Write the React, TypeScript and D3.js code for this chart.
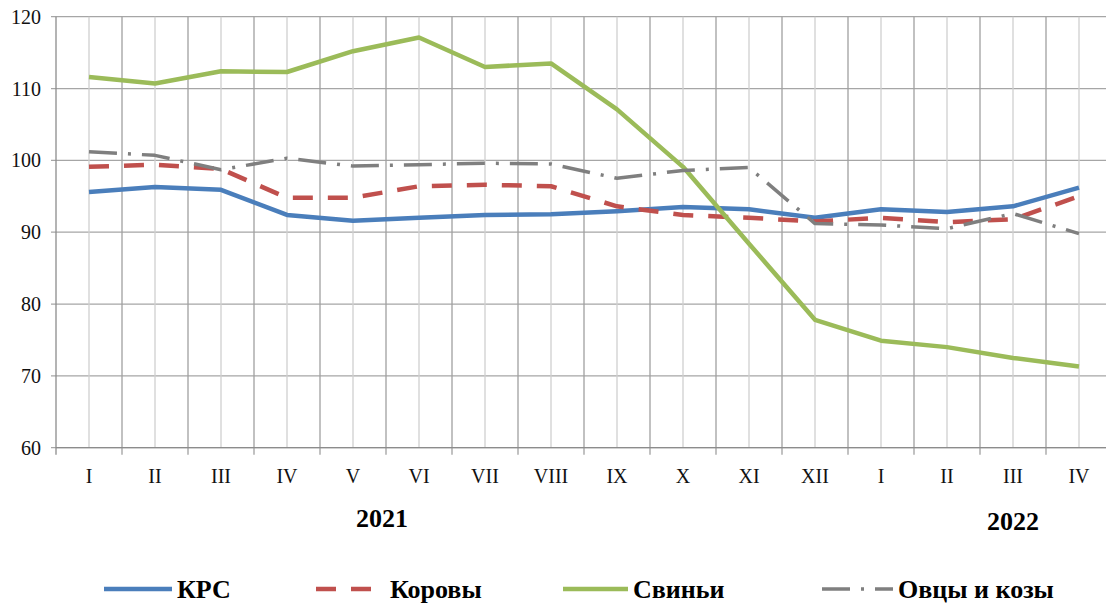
import React from "react";
import { scaleBand, scaleLinear, line } from "d3";

// months, 2021 I..XII then 2022 I..IV
const months = ["I", "II", "III", "IV", "V", "VI", "VII", "VIII", "IX", "X", "XI", "XII", "I", "II", "III", "IV"];
const yTicks = [60, 70, 80, 90, 100, 110, 120];

const krs = [95.6, 96.3, 95.9, 92.4, 91.6, 92.0, 92.4, 92.5, 92.9, 93.5, 93.2, 92.0, 93.2, 92.8, 93.6, 96.2];
const korovy = [99.1, 99.4, 98.8, 94.8, 94.8, 96.4, 96.6, 96.4, 93.6, 92.4, 92.0, 91.5, 92.0, 91.4, 91.8, 95.0];
const sviniy = [111.6, 110.7, 112.4, 112.3, 115.2, 117.1, 113.0, 113.5, 107.1, 99.1, 88.4, 77.8, 74.9, 74.0, 72.5, 71.3];
const ovtsy = [101.2, 100.7, 98.7, 100.3, 99.2, 99.4, 99.6, 99.5, 97.5, 98.6, 99.0, 91.2, 91.0, 90.5, 92.6, 89.8];

const series = [
  { name: "КРС", values: krs, color: "#4a7ebb", width: 4.5, dash: undefined, lx1: 104, lx2: 172, textX: 177 },
  { name: "Коровы", values: korovy, color: "#c0504d", width: 4.5, dash: "20 15", lx1: 316, lx2: 371, textX: 390 },
  { name: "Свиньи", values: sviniy, color: "#9bbb59", width: 4.5, dash: undefined, lx1: 563, lx2: 628, textX: 633 },
  { name: "Овцы и козы", values: ovtsy, color: "#7f7f7f", width: 3.5, dash: "28 11 3 11", lx1: 822, lx2: 893, textX: 898 },
];

const W = 1106;
const H = 604;
const left = 56;
const right = 1112; // plot runs past the picture edge
const top = 16.7;
const bottom = 447.7;
const font = '"Liberation Serif", "Times New Roman", Times, serif';

export default function App() {
  const x = scaleBand<number>()
    .domain(months.map((_, i) => i))
    .range([left, right]);
  const y = scaleLinear().domain([60, 120]).range([bottom, top]);
  const bw = x.bandwidth();
  const cx = (i: number) => (x(i) as number) + bw / 2;

  const path = line<number>()
    .x((_, i) => cx(i))
    .y((d) => y(d));

  return (
    <svg
      width={W}
      height={H}
      style={{ position: "absolute", left: 0, top: 0, background: "#fff", fontFamily: font }}
    >
      {/* horizontal gridlines + y labels */}
      {yTicks.map((t) => (
        <g key={t}>
          <line x1={left - 5} x2={right} y1={y(t)} y2={y(t)} stroke="#a6a6a6" strokeWidth={1.2} />
          <text x={41} y={y(t)} dy="0.35em" textAnchor="end" fontSize={20} fill="#111">
            {t}
          </text>
        </g>
      ))}

      {/* vertical gridlines: light at points, darker at band edges */}
      {months.map((m, i) => (
        <g key={i}>
          <line x1={cx(i)} x2={cx(i)} y1={top} y2={bottom} stroke="#cfcfcf" strokeWidth={1.3} />
          {i > 0 && (
            <line x1={x(i)} x2={x(i)} y1={top} y2={bottom + 7} stroke="#a0a0a0" strokeWidth={1.3} />
          )}
          <text x={cx(i)} y={483} textAnchor="middle" fontSize={20} fill="#111">
            {m}
          </text>
        </g>
      ))}

      {/* axes */}
      <line x1={left} x2={left} y1={top} y2={bottom + 7} stroke="#8c8c8c" strokeWidth={1.3} />
      <line x1={left} x2={right} y1={bottom} y2={bottom} stroke="#8c8c8c" strokeWidth={1.3} />

      {/* years */}
      <text x={382} y={527} textAnchor="middle" fontSize={26} fontWeight="bold" fill="#000">
        2021
      </text>
      <text x={1013} y={530} textAnchor="middle" fontSize={26} fontWeight="bold" fill="#000">
        2022
      </text>

      {/* lines */}
      {series.map((s) => (
        <path
          key={s.name}
          d={path(s.values) as string}
          fill="none"
          stroke={s.color}
          strokeWidth={s.width}
          strokeDasharray={s.dash}
          strokeLinejoin="round"
        />
      ))}

      {/* legend */}
      {series.map((s) => (
        <g key={s.name}>
          <line
            x1={s.lx1}
            x2={s.lx2}
            y1={589}
            y2={589}
            stroke={s.color}
            strokeWidth={s.width}
            strokeDasharray={s.dash}
          />
          <text x={s.textX} y={597.5} fontSize={26} fontWeight="bold" fill="#000">
            {s.name}
          </text>
        </g>
      ))}
    </svg>
  );
}
